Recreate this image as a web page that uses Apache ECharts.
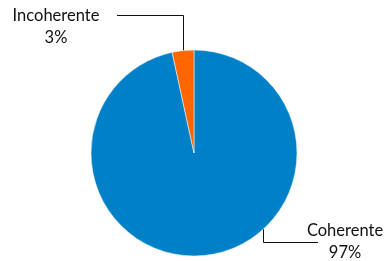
<!DOCTYPE html>
<html>
<head>
<meta charset="utf-8">
<title>Coherente / Incoherente</title>
<script src="https://cdn.jsdelivr.net/npm/echarts@6/dist/echarts.min.js"></script>
<style>
  html, body { margin: 0; padding: 0; background: #fff; }
  #chart { width: 387px; height: 261px; }
</style>
</head>
<body>
<div id="chart"></div>
<script>
var categories = ['Coherente', 'Incoherente'];
var shares = [96.6, 3.4];
var colors = ['#0080C6', '#FF6600'];

// where the labels sit and how the leader lines bend (layout only)
var labelPos = [
    { x: 345, y: 242, lineX: 263.5, elbowY: 242.5, endX: 318 },
    { x: 56, y: 27, lineX: null, elbowY: 15.5, endX: 117 }
];
var center = [194, 153];
var radius = 103;

var total = shares.reduce(function (a, b) { return a + b; }, 0);

// point on the pie rim: either at the slice's middle angle, or at a given x
var rimPoint = function (i) {
    var p = labelPos[i];
    if (p.lineX != null) {
        var dx = p.lineX - center[0];
        var dy = Math.sqrt(radius * radius - dx * dx);
        return [p.lineX, p.elbowY > center[1] ? center[1] + dy : center[1] - dy];
    }
    var before = 0;
    for (var k = 0; k < i; k++) before += shares[k];
    var mid = (before + shares[i] / 2) / total * Math.PI * 2;
    // snap the vertical part onto a pixel centre so it stays crisp
    return [Math.round(center[0] + radius * Math.sin(mid)) + 0.5, center[1] - radius * Math.cos(mid)];
};

var data = categories.map(function (name, i) {
    return { name: name, value: shares[i], itemStyle: { color: colors[i] } };
});

var myChart = echarts.init(document.getElementById('chart'));
myChart.setOption({
    animation: false,
    series: [
        {
            type: 'pie',
            center: center,
            radius: radius,
            startAngle: 90,
            clockwise: true,
            data: data,
            itemStyle: { borderColor: '#fff', borderWidth: 0.5 },
            label: {
                show: true,
                formatter: function (params) {
                    return params.name + '\n' + Math.round(params.percent) + '%';
                },
                fontFamily: 'Lato',
                fontSize: 16.5,
                lineHeight: 22,
                color: '#111',
                align: 'center'
            },
            labelLine: {
                show: true,
                lineStyle: { color: '#111', width: 1 }
            },
            labelLayout: function (params) {
                var i = params.dataIndex;
                var p = labelPos[i];
                var start = rimPoint(i);
                return {
                    x: p.x,
                    y: p.y,
                    align: 'center',
                    verticalAlign: 'middle',
                    labelLinePoints: [start, [start[0], p.elbowY], [p.endX, p.elbowY]]
                };
            },
            emphasis: { disabled: true }
        }
    ]
});
</script>
</body>
</html>
